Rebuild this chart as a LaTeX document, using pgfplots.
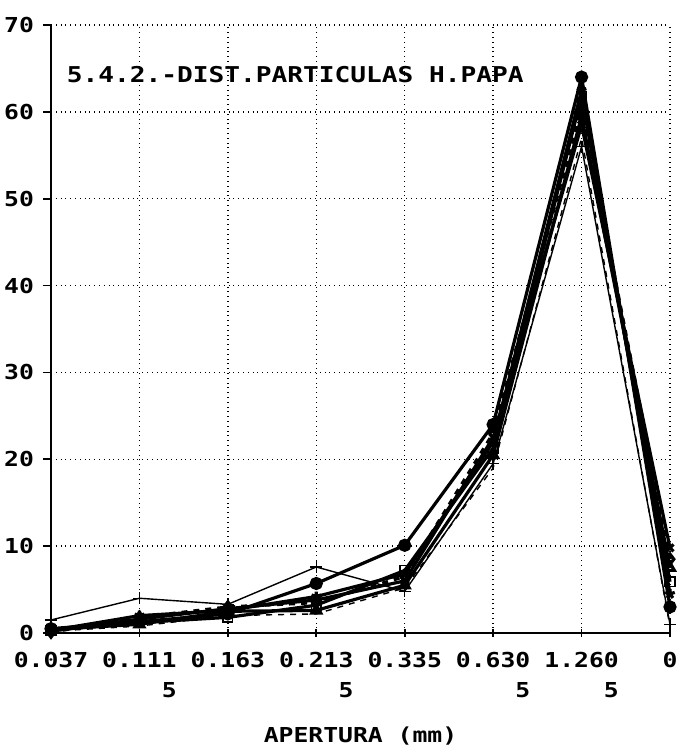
\documentclass[border=0pt]{standalone}
\usepackage{fontspec}
\newfontfamily\plotfont[FakeStretch=1.2]{DejaVu Sans Mono}
\usepackage{pgfplots}
\pgfplotsset{compat=1.18}
\newcommand{\pf}{\plotfont\bfseries\fontsize{10.3}{15}\selectfont}
\begin{document}
\begin{tikzpicture}
\useasboundingbox (-25.5pt,-60pt) rectangle (316pt,316.5pt);
\begin{axis}[
  at={(0pt,0pt)}, anchor=south west,
  scale only axis, width=309.5pt, height=304pt,
  xmin=0, xmax=7, ymin=0, ymax=70,
  axis lines*=left,
  axis line style={line width=1pt},
  xtick={0,...,7},
  xticklabels={0.037,{0.111\\5},0.163,{0.213\\5},0.335,{0.630\\5},{1.260\\5},0},
  ytick={0,10,...,70},
  grid=major,
  grid style={dotted, black, line width=0.7pt},
  tick style={black, line width=0.8pt},
  major tick length=4pt,
  xtick align=center, ytick align=outside,
  tick label style={font=\pf},
  xticklabel style={align=right, yshift=-4pt},
  yticklabel style={xshift=-1pt},
  /pgf/number format/assume math mode=true,
  xlabel={APERTURA (mm)},
  xlabel style={font=\pf, yshift=-7.5pt},
  clip=false,
  every axis plot/.append style={black},
]
\addplot[line width=1.6pt, mark=*, mark size=2.5pt] coordinates {(0,0.5) (1,1.3) (2,2.2) (3,5.7) (4,10.1) (5,24.0) (6,64.0) (7,3.0)};
\addplot[line width=1.6pt, mark=square, mark size=2.4pt, mark options={solid, line width=0.8pt, fill=white}] coordinates {(0,0.3) (1,1.2) (2,1.8) (3,3.2) (4,7.2) (5,21.3) (6,61.8) (7,5.9)};
\addplot[line width=0.7pt, mark=+, mark size=3pt] coordinates {(0,1.5) (1,4.0) (2,3.3) (3,7.6) (4,4.8) (5,19.5) (6,56.0) (7,1.0)};
\addplot[line width=1.6pt, mark=x, mark size=2.5pt] coordinates {(0,0.2) (1,1.6) (2,2.8) (3,3.8) (4,6.0) (5,22.5) (6,58.5) (7,9.8)};
\addplot[line width=1.6pt, mark=triangle, mark size=2.5pt] coordinates {(0,0.4) (1,1.0) (2,2.5) (3,2.6) (4,5.5) (5,20.5) (6,59.5) (7,7.5)};
\addplot[line width=1.6pt, dashed, mark=diamond, mark size=2.5pt, mark options={solid}] coordinates {(0,0.1) (1,1.8) (2,3.0) (3,3.5) (4,6.5) (5,23.0) (6,60.5) (7,8.5)};
\addplot[line width=1.6pt, mark=star, mark size=2.5pt] coordinates {(0,0.3) (1,2.0) (2,2.6) (3,4.2) (4,6.8) (5,22.0) (6,62.5) (7,4.5)};
\addplot[line width=0.7pt, dashed] coordinates {(0,0.2) (1,0.8) (2,2.0) (3,2.2) (4,5.2) (5,19.0) (6,57.0) (7,0.7)};
\node[anchor=west, font=\plotfont\bfseries\fontsize{10.9}{13}\selectfont] at (axis cs:0.1,64.3) {5.4.2.-DIST.PARTICULAS H.PAPA};
\end{axis}
\end{tikzpicture}
\end{document}
